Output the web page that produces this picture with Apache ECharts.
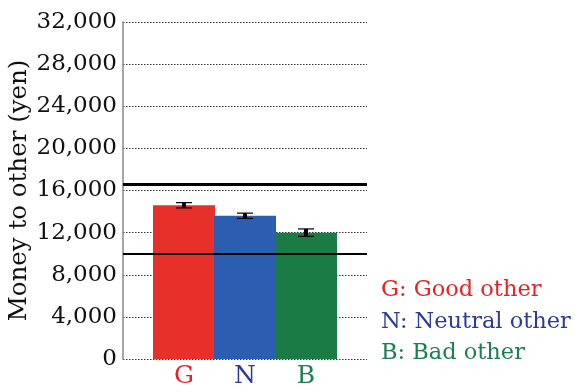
<!DOCTYPE html>
<html><head><meta charset="utf-8">
<script src="https://cdn.jsdelivr.net/npm/echarts@6/dist/echarts.min.js"></script>
<style>html,body{margin:0;padding:0;background:#fff}#c{width:575px;height:392px}</style>
</head><body><div id="c"></div>
<script>
var categories = ['', 'G', 'N', 'B', ''];
var barValues = ['-', 14600, 13600, 12000, '-'];
var errValues = [0, 250, 250, 350, 0];
var barColors = ['#e8302a', '#e8302a', '#2b5eb1', '#1a7b45', '#1a7b45'];
var labelColors = ['#e82020', '#e82020', '#2b3a9e', '#1a8050', '#1a8050'];
var refLines = [16600, 10000];
var yTicks = [0, 4000, 8000, 12000, 16000, 20000, 24000, 28000, 32000];
var legendTexts = ['G: Good other', 'N: Neutral other', 'B: Bad other'];
var legendColors = ['#e82020', '#2b3a9e', '#1a8050'];
var yTitle = 'Money to other (yen)';

var FONT = 'DejaVu Serif';
var chart = echarts.init(document.getElementById('c'));
var errData = [];
for (var i = 0; i < categories.length; i++) {
  if (barValues[i] !== '-') errData.push([i, barValues[i], errValues[i]]);
}
chart.setOption({
  animation: false,
  grid: {left: 123, right: 208, top: 22, bottom: 33},
  xAxis: {
    type: 'category', data: categories, boundaryGap: false,
    axisLine: {show: false}, axisTick: {show: false},
    axisLabel: {
      margin: 5, fontFamily: FONT, fontSize: 25,
      color: function (v, idx) { return labelColors[idx]; }
    }
  },
  yAxis: {
    type: 'value', min: 0, max: 32000, interval: 4000,
    name: yTitle, nameLocation: 'middle', nameGap: 90,
    nameTextStyle: {fontFamily: FONT, fontSize: 24.5, color: '#111'},
    axisLine: {show: true, lineStyle: {color: '#888', width: 1.5}},
    axisTick: {show: false},
    axisLabel: {
      margin: 6, fontFamily: FONT, fontSize: 23, color: '#111',
      formatter: function (v) { return v.toLocaleString('en-US'); }
    },
    splitLine: {show: true, lineStyle: {type: [1.5, 1.5], color: '#333', width: 1}}
  },
  series: [{
    type: 'bar', data: barValues.map(function (v, i) {
      return {value: v, itemStyle: {color: barColors[i]}};
    }),
    barWidth: 62,
    markLine: {
      silent: true, symbol: 'none', label: {show: false},
      data: [
        {yAxis: refLines[0], lineStyle: {color: '#000', width: 3, type: 'solid'}},
        {yAxis: refLines[1], lineStyle: {color: '#000', width: 2, type: 'solid'}}
      ]
    },
    z: 2
  }, {
    type: 'custom', data: errData, z: 5,
    renderItem: function (params, api) {
      var x = api.value(0), y = api.value(1), e = api.value(2);
      var top = api.coord([x, y + e]);
      var bot = api.coord([x, y - e]);
      var cw = 8;
      return {type: 'group', children: [
        {type: 'line', shape: {x1: top[0], y1: top[1], x2: bot[0], y2: bot[1]}, style: {stroke: '#000', lineWidth: 4}},
        {type: 'line', shape: {x1: top[0] - cw, y1: top[1], x2: top[0] + cw, y2: top[1]}, style: {stroke: '#000', lineWidth: 1.2}},
        {type: 'line', shape: {x1: bot[0] - cw, y1: bot[1], x2: bot[0] + cw, y2: bot[1]}, style: {stroke: '#000', lineWidth: 1.2}}
      ]};
    }
  }],
  graphic: legendTexts.map(function (t, i) {
    return {type: 'text', left: 381, top: 279 + i * 31.5,
      style: {text: t, fill: legendColors[i], font: '22.5px "' + FONT + '"'}};
  })
});
</script></body></html>
